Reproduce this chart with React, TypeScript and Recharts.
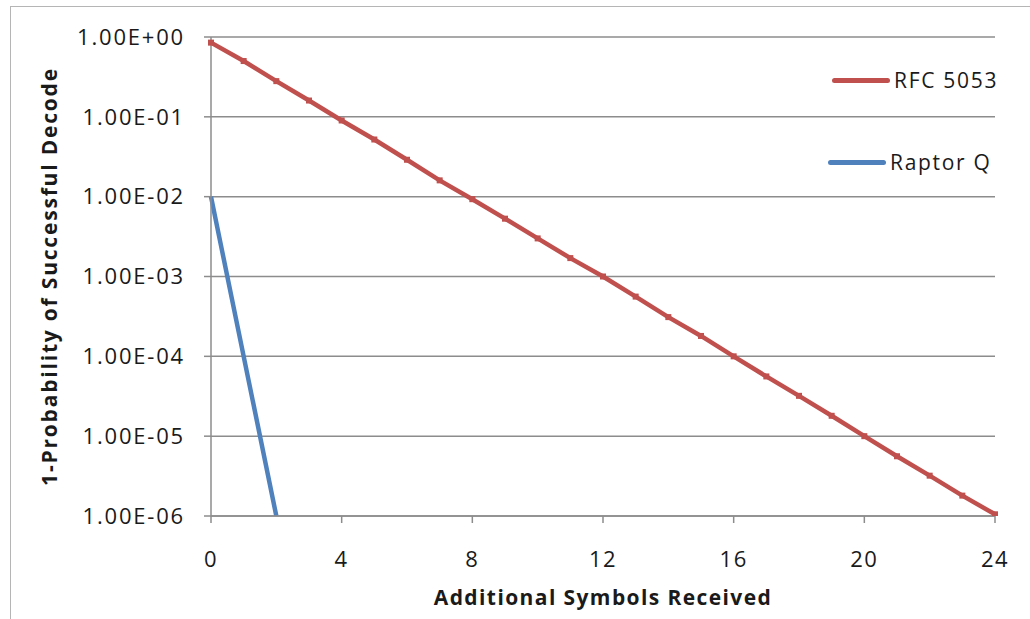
import {
  CartesianGrid,
  Label,
  Legend,
  Line,
  LineChart,
  XAxis,
  YAxis,
} from "recharts";

// Additional symbols received (x)
const symbols = [
  0, 1, 2, 3, 4, 5, 6, 7, 8, 9, 10, 11, 12, 13, 14, 15, 16, 17, 18, 19, 20, 21,
  22, 23, 24,
];

// 1 - probability of successful decode
const rfc5053 = [
  0.85, 0.5, 0.28, 0.16, 0.09, 0.052, 0.029, 0.016, 0.0093, 0.0053, 0.003,
  0.0017, 0.001, 0.00056, 0.00031, 0.00018, 0.0001, 0.000056, 0.000032,
  0.000018, 0.00001, 0.0000056, 0.0000032, 0.0000018, 0.00000105,
];

const raptorQ = [0.01, 0.0001, 0.000001];

const xTicks = [0, 4, 8, 12, 16, 20, 24];
const yTicks = [1, 0.1, 0.01, 0.001, 0.0001, 0.00001, 0.000001];

const seriesNames = ["RFC 5053", "Raptor Q"];
const seriesColors = ["#C0504D", "#4F81BD"];

const data = symbols.map((x, i) => ({
  x,
  rfc: rfc5053[i],
  raptor: i < raptorQ.length ? raptorQ[i] : undefined,
}));

const FONT = "'Open Sans', sans-serif";
const GRID = "#8c8c8c";

const formatExp = (v: number) => {
  const e = Math.round(Math.log10(v));
  const sign = e < 0 ? "-" : "+";
  const abs = Math.abs(e);
  return `1.00E${sign}${abs < 10 ? "0" + abs : abs}`;
};

const SquareDot = (props: any) => {
  const { cx, cy, stroke } = props;
  if (cx == null || cy == null) return null;
  return <rect x={cx - 3} y={cy - 3} width={6} height={6} fill={stroke} />;
};

const LegendBox = () => (
  <div
    style={{
      fontFamily: FONT,
      fontSize: 21,
      letterSpacing: 1.7,
      color: "#1a1a1a",
    }}
  >
    {seriesNames.map((name, i) => (
      <div
        key={name}
        style={{
          display: "flex",
          alignItems: "center",
          height: 40,
          marginBottom: i === 0 ? 42 : 0,
          marginLeft: i === 0 ? 4 : 0,
        }}
      >
        <span
          style={{
            display: "inline-block",
            width: 58,
            height: 5,
            borderRadius: 3,
            background: seriesColors[i],
            marginRight: 4,
          }}
        />
        <span>{name}</span>
      </div>
    ))}
  </div>
);

const App = () => {
  return (
    <div
      style={{
        position: "absolute",
        left: 0,
        top: 0,
        width: 1030,
        height: 619,
        overflow: "hidden",
        background: "#fff",
      }}
    >
      <div
        style={{
          position: "absolute",
          left: 10,
          top: 6,
          width: 1040,
          height: 640,
          border: "1.5px solid #b5b5b5",
        }}
      />
      <LineChart
        width={1030}
        height={619}
        data={data}
        margin={{ top: 37, right: 35, left: 0, bottom: 0 }}
        style={{ position: "absolute", left: 0, top: 0 }}
      >
        <CartesianGrid vertical={false} stroke={GRID} strokeWidth={1.5} />
        <XAxis
          dataKey="x"
          type="number"
          domain={[0, 24]}
          ticks={xTicks}
          height={103}
          stroke={GRID}
          strokeWidth={1.5}
          tickSize={7}
          tickMargin={28}
          tick={{
            fill: "#1a1a1a",
            fontSize: 22,
            fontFamily: FONT,
            letterSpacing: 1.5,
          }}
        >
          <Label
            content={({ viewBox }: any) => (
              <text
                x={viewBox.x + viewBox.width / 2}
                y={605}
                textAnchor="middle"
                fontFamily={FONT}
                fontWeight="bold"
                fontSize={21}
                letterSpacing={1.4}
                fill="#1a1a1a"
              >
                Additional Symbols Received
              </text>
            )}
          />
        </XAxis>
        <YAxis
          type="number"
          scale="log"
          domain={[0.000001, 1]}
          ticks={yTicks}
          allowDataOverflow
          width={211}
          stroke={GRID}
          strokeWidth={1.5}
          tickSize={7}
          tickMargin={19}
          tickFormatter={formatExp}
          tick={{
            fill: "#1a1a1a",
            fontSize: 22,
            fontFamily: FONT,
            letterSpacing: 1.8,
          }}
        >
          <Label
            content={({ viewBox }: any) => {
              const cx = 49;
              const cy = viewBox.y + viewBox.height / 2;
              return (
                <text
                  x={cx}
                  y={cy}
                  transform={`rotate(-90, ${cx}, ${cy})`}
                  textAnchor="middle"
                  dominantBaseline="central"
                  fontFamily={FONT}
                  fontWeight="bold"
                  fontSize={21}
                  letterSpacing={1.8}
                  fill="#1a1a1a"
                >
                  1-Probability of Successful  Decode
                </text>
              );
            }}
          />
        </YAxis>
        <Legend
          layout="vertical"
          align="center"
          verticalAlign="middle"
          content={<LegendBox />}
          wrapperStyle={{ position: "absolute", left: 828, top: 60, width: 200 }}
        />
        <Line
          dataKey="rfc"
          name={seriesNames[0]}
          stroke={seriesColors[0]}
          strokeWidth={4.5}
          dot={<SquareDot />}
          isAnimationActive={false}
        />
        <Line
          dataKey="raptor"
          name={seriesNames[1]}
          stroke={seriesColors[1]}
          strokeWidth={4.5}
          dot={false}
          connectNulls={false}
          isAnimationActive={false}
        />
      </LineChart>
    </div>
  );
};

export default App;
